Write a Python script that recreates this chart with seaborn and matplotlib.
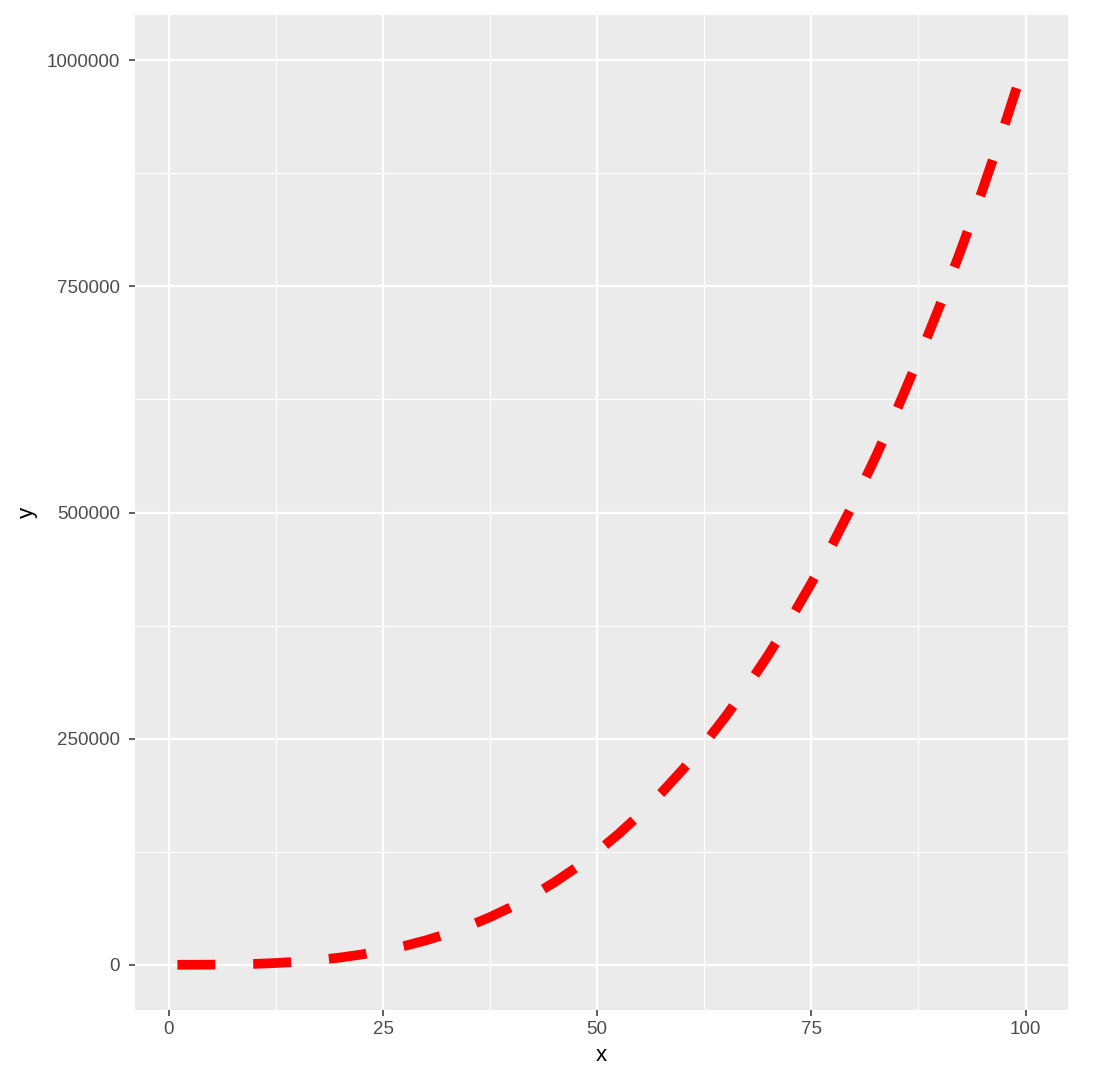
import matplotlib
matplotlib.use("Agg")
import matplotlib.pyplot as plt
import seaborn as sns
import pandas as pd
from matplotlib.ticker import MultipleLocator

# values
x_vals = [1, 2.5, 5, 7.5, 10, 12.5, 15, 17.5, 20, 22.5, 25, 27.5, 30, 32.5, 35, 37.5, 40,
          42.5, 45, 47.5, 50, 52.5, 55, 57.5, 60, 62.5, 65, 67.5, 70, 72.5, 75, 77.5, 80,
          82.5, 85, 87.5, 90, 92.5, 95, 97.5, 100]
y_vals = [1, 16, 125, 422, 1000, 1953, 3375, 5359, 8000, 11391, 15625, 20797, 27000,
          34328, 42875, 52734, 64000, 76766, 91125, 107172, 125000, 144703, 166375,
          190109, 216000, 244141, 274625, 307547, 343000, 381078, 421875, 465484,
          512000, 561516, 614125, 669922, 729000, 791453, 857375, 926859, 1000000]
x_ticks = [0, 25, 50, 75, 100]
y_ticks = [0, 250000, 500000, 750000, 1000000]

df = pd.DataFrame({"x": x_vals, "y": y_vals})

sns.set_theme(style="darkgrid")
plt.rcParams['font.family'] = ['Liberation Sans', 'DejaVu Sans']

fig = plt.figure(figsize=(10.93, 10.8), dpi=100)
ax = fig.add_axes([0.1235, 0.0648, 0.9771 - 0.1235, 0.9861 - 0.0648])
ax.set_facecolor("#EBEBEB")

sns.lineplot(data=df, x="x", y="y", ax=ax, color="#FF0000", linewidth=7.0)
line = ax.get_lines()[0]
line.set_dashes((3.9, 3.9))
line.set_dash_capstyle("butt")

ax.set_xlim(-3.95, 104.95)
ax.set_ylim(-49999.95, 1049999.95)
ax.set_xticks(x_ticks)
ax.set_yticks(y_ticks)
ax.set_xticklabels([str(t) for t in x_ticks])
ax.set_yticklabels([str(t) for t in y_ticks])
ax.xaxis.set_minor_locator(MultipleLocator(12.5))
ax.yaxis.set_minor_locator(MultipleLocator(125000))

ax.grid(which="major", color="white", linewidth=1.6)
ax.grid(which="minor", color="white", linewidth=0.8)
ax.set_axisbelow(True)
for s in ax.spines.values():
    s.set_visible(False)

ax.tick_params(axis="both", which="major", length=4, width=1.1, color="#333333",
               labelsize=13.5, labelcolor="#4D4D4D", pad=4, bottom=True, left=True)
ax.tick_params(axis="y", which="major", pad=7)
ax.tick_params(axis="both", which="minor", length=0)

ax.set_xlabel("x", fontsize=16, color="black", labelpad=5)
ax.set_ylabel("y", fontsize=16, color="black", labelpad=6)

fig.savefig("out.png", dpi=100, facecolor="white")
